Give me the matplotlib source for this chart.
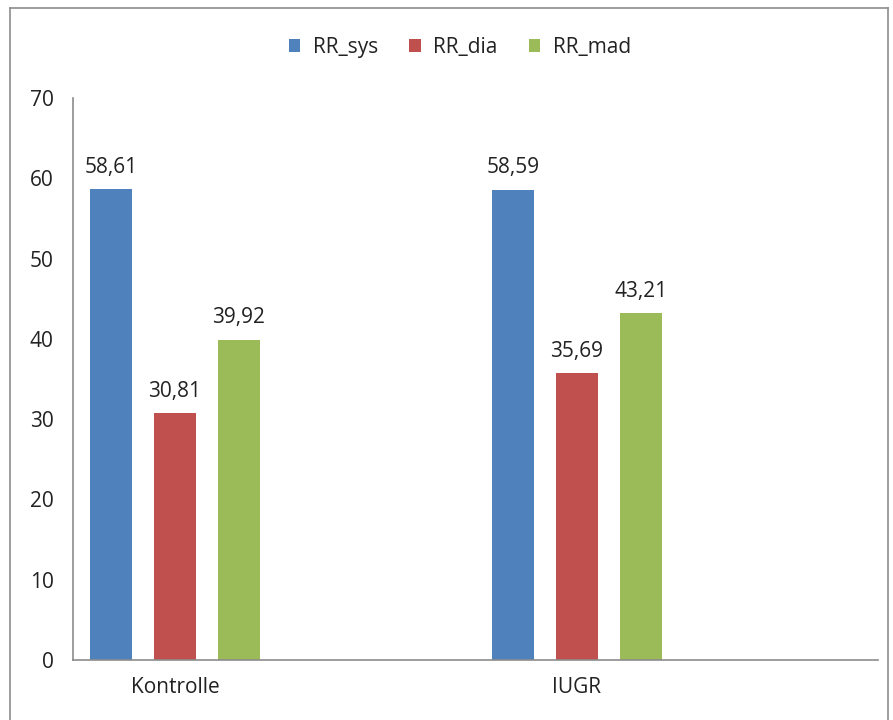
import matplotlib
matplotlib.use("Agg")
import matplotlib.pyplot as plt
from matplotlib.lines import Line2D
import numpy as np

plt.rcParams['font.family'] = ['Open Sans', 'DejaVu Sans']

groups = ["Kontrolle", "IUGR"]
series = ["RR_sys", "RR_dia", "RR_mad"]
rr_sys = [58.61, 58.59]
rr_dia = [30.81, 35.69]
rr_mad = [39.92, 43.21]
colors = ["#4F81BD", "#C0504D", "#9BBB59"]
y_ticks = [0, 10, 20, 30, 40, 50, 60, 70]

fig = plt.figure(figsize=(8.93, 7.2), dpi=100)
ax = fig.add_axes([0.0817, 0.0833, 0.9013, 0.7806])

x = np.arange(len(groups))
step = 0.159
width = 0.104
fs = 15
for i, (name, vals, c) in enumerate(zip(series, [rr_sys, rr_dia, rr_mad], colors)):
    pos = x + (i - 1) * step
    bars = ax.bar(pos, vals, width=width, color=c, label=name)
    for b, v in zip(bars, vals):
        ax.annotate(f"{v:.2f}".replace(".", ","),
                    (b.get_x() + b.get_width() / 2, v),
                    xytext=(0, 8), textcoords="offset points",
                    ha="center", va="bottom", fontsize=fs, color="#222222")

ax.set_xlim(-0.254, 1.749)
ax.set_ylim(0, 70)
ax.set_yticks(y_ticks)
ax.set_yticklabels([str(t) for t in y_ticks])
ax.set_xticks(x)
ax.set_xticklabels(groups)
ax.tick_params(axis="both", length=0, labelsize=fs, colors="#222222")
ax.tick_params(axis="y", pad=14)
ax.tick_params(axis="x", pad=12)
for s in ["top", "right"]:
    ax.spines[s].set_visible(False)
for s in ["left", "bottom"]:
    ax.spines[s].set_color("#8c8c8c")
    ax.spines[s].set_linewidth(1.2)

leg = fig.legend(loc="center", bbox_to_anchor=(0.515, 0.934), ncol=3, frameon=False,
                 fontsize=fs, handlelength=0.55, handleheight=0.55,
                 columnspacing=1.5, handletextpad=0.6)
for t in leg.get_texts():
    t.set_color("#222222")

# outer chart frame
fx0, fx1, fy1 = 10 / 893, 888 / 893, 1 - 8 / 720
frame_kw = dict(color="#8c8c8c", linewidth=1.2, transform=fig.transFigure)
fig.add_artist(Line2D([fx0, fx0], [0, fy1], **frame_kw))
fig.add_artist(Line2D([fx0, fx1], [fy1, fy1], **frame_kw))
fig.add_artist(Line2D([fx1, fx1], [0, fy1], **frame_kw))

fig.savefig("out.png", dpi=100)
